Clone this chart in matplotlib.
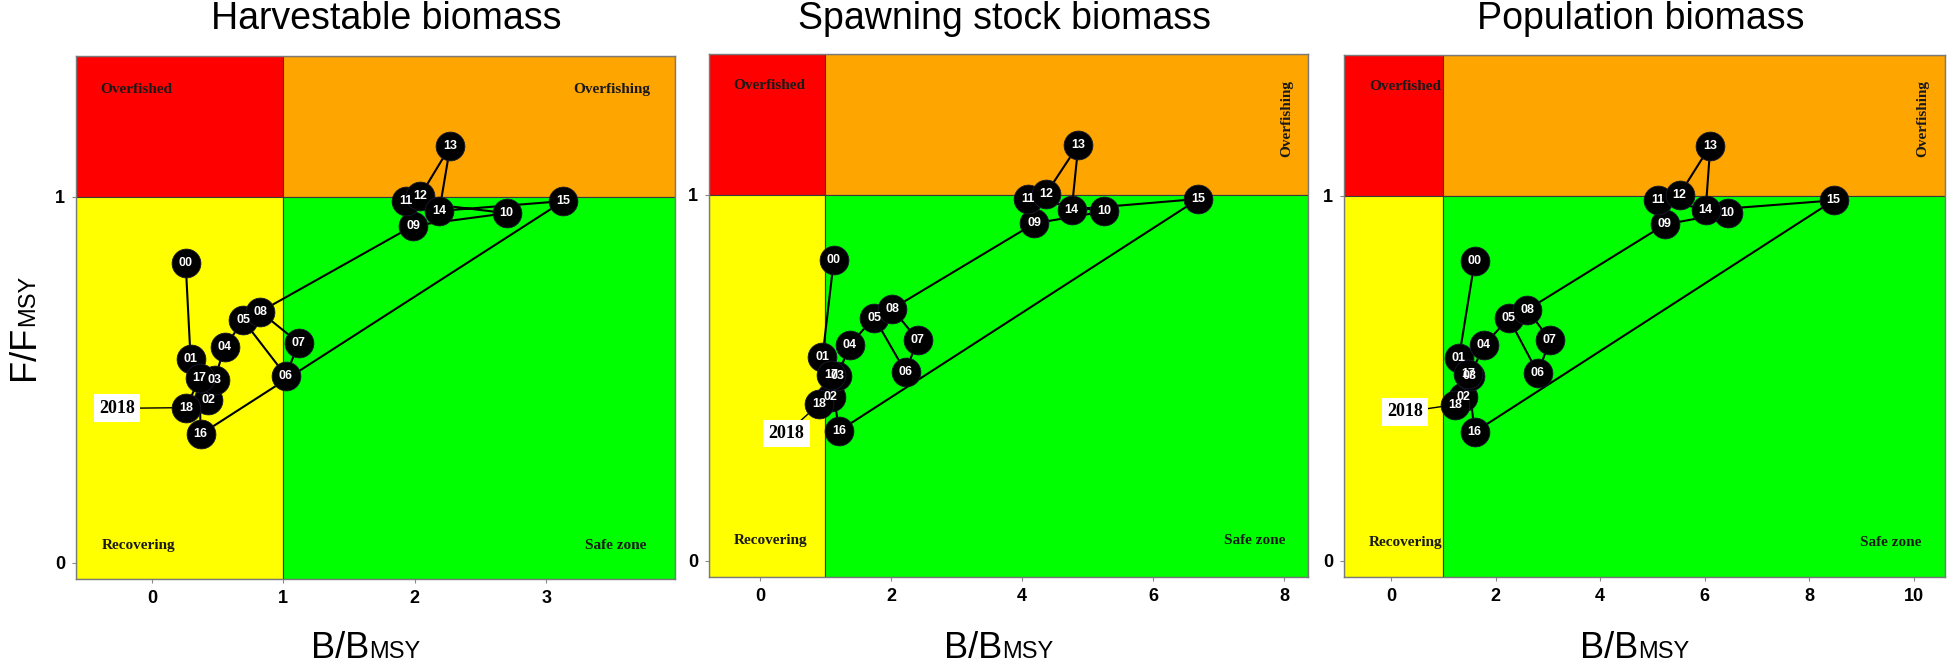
import matplotlib
matplotlib.use('Agg')
import matplotlib.pyplot as plt
from matplotlib.patches import Rectangle

# years 2000-2018, labelled by last two digits
years = ["00", "01", "02", "03", "04", "05", "06", "07", "08", "09",
         "10", "11", "12", "13", "14", "15", "16", "17", "18"]

# Harvestable biomass
harv_b = [0.257, 0.295, 0.431, 0.477, 0.553, 0.696, 1.02, 1.117, 0.824, 1.99,
          2.70, 1.935, 2.043, 2.27, 2.187, 3.13, 0.371, 0.363, 0.263]
harv_f = [0.82, 0.556, 0.445, 0.50, 0.589, 0.662, 0.511, 0.601, 0.686, 0.921,
          0.955, 0.988, 1.003, 1.138, 0.961, 0.988, 0.351, 0.506, 0.424]

# Spawning stock biomass
ssb_b = [1.127, 0.954, 1.081, 1.183, 1.371, 1.743, 2.221, 2.405, 2.018, 4.186,
         5.253, 4.094, 4.364, 4.857, 4.756, 6.689, 1.204, 1.09, 0.903]
ssb_f = [0.822, 0.557, 0.448, 0.504, 0.591, 0.665, 0.516, 0.604, 0.689, 0.922,
         0.955, 0.988, 1.003, 1.137, 0.960, 0.989, 0.355, 0.509, 0.429]

# Population biomass
pop_b = [1.60, 1.30, 1.38, 1.51, 1.78, 2.25, 2.81, 3.04, 2.61, 5.24,
         6.44, 5.10, 5.52, 6.11, 6.02, 8.47, 1.60, 1.47, 1.23]
pop_f = [0.82, 0.556, 0.448, 0.507, 0.59, 0.665, 0.514, 0.604, 0.688, 0.921,
         0.953, 0.987, 1.003, 1.137, 0.960, 0.987, 0.353, 0.512, 0.428]

titles = ["Harvestable biomass", "Spawning stock biomass", "Population biomass"]
xticks_list = [[0, 1, 2, 3], [0, 2, 4, 6, 8], [0, 2, 4, 6, 8, 10]]

W, H = 1950, 663
fig = plt.figure(figsize=(W / 100, H / 100), dpi=100)

narrow = ['Liberation Sans Narrow', 'Liberation Sans', 'DejaVu Sans']
serif = ['Liberation Serif', 'DejaVu Serif']
sans = ['Liberation Sans', 'DejaVu Sans']

# panel layout: (left px, right px, top px, bottom px, xlim, title x px, xlabel split px)
panels = [
    dict(px=(76, 675, 55.7, 579), xlim=(-0.577, 3.98), title_x=386, split=369,
         overfished=(-0.12, 1.294), overfishing=(3.50, 1.294, 0), recovering=(-0.10, 0.047),
         safe=(3.53, 0.047), lab2018=(-0.264, 0.422)),
    dict(px=(709, 1308, 54, 577), xlim=(-0.777, 8.36), title_x=1004, split=1002,
         overfished=(0.139, 1.30), overfishing=(8.04, 1.21, 90), recovering=(0.165, 0.055),
         safe=(7.54, 0.055), lab2018=(0.405, 0.348)),
    dict(px=(1344, 1945, 55, 577), xlim=(-0.9, 10.6), title_x=1641, split=1638,
         overfished=(0.27, 1.30), overfishing=(10.18, 1.21, 90), recovering=(0.28, 0.05),
         safe=(9.56, 0.05), lab2018=(0.27, 0.408)),
]
series = [(harv_b, harv_f), (ssb_b, ssb_f), (pop_b, pop_f)]
ylim = (-0.044, 1.385)

for i, (cfg, (bx, fy)) in enumerate(zip(panels, series)):
    l, r, t, b = cfg['px']
    ax = fig.add_axes([l / W, 1 - b / H, (r - l) / W, (b - t) / H])
    x0, x1 = cfg['xlim']
    y0, y1 = ylim
    ax.set_xlim(x0, x1)
    ax.set_ylim(y0, y1)

    # zones
    ec = '#3a3a3a'
    ax.add_patch(Rectangle((x0, 1), 1 - x0, y1 - 1, fc='#FF0000', ec=ec, lw=0.8, zorder=0))
    ax.add_patch(Rectangle((1, 1), x1 - 1, y1 - 1, fc='#FFA500', ec=ec, lw=0.8, zorder=0))
    ax.add_patch(Rectangle((x0, y0), 1 - x0, 1 - y0, fc='#FFFF00', ec=ec, lw=0.8, zorder=0))
    ax.add_patch(Rectangle((1, y0), x1 - 1, 1 - y0, fc='#00FF00', ec=ec, lw=0.8, zorder=0))

    # trajectory
    ax.plot(bx, fy, color='black', lw=1.5, zorder=2)

    # 2018 label with leader
    lx, ly = cfg['lab2018']
    ax.plot([lx, bx[-1]], [ly, fy[-1]], color='black', lw=1.0, zorder=1.5)
    ax.text(lx, ly, "2018", ha='center', va='center', fontsize=13, fontweight='bold',
            family=serif, zorder=2.5,
            bbox=dict(boxstyle='square,pad=0.3', fc='white', ec='none'))

    ax.scatter(bx, fy, s=430, color='black', edgecolors='#1a1a2e', linewidths=0.6, zorder=3)
    for yr, xv, yv in zip(years, bx, fy):
        ax.text(xv, yv, yr, ha='center', va='center', color='white', fontsize=9,
                fontweight='bold', family=narrow, zorder=4)

    # zone names
    tkw = dict(fontsize=11, fontweight='bold', family=serif, color='#1a1a1a',
               ha='center', va='center', zorder=1)
    ax.text(*cfg['overfished'], "Overfished", **tkw)
    ox, oy, rot = cfg['overfishing']
    ax.text(ox, oy, "Overfishing", rotation=rot, **tkw)
    ax.text(*cfg['recovering'], "Recovering", **tkw)
    ax.text(*cfg['safe'], "Safe zone", **tkw)

    ax.set_xticks(xticks_list[i])
    ax.set_yticks([0, 1])
    ax.tick_params(axis='both', length=3, width=0.8, color='#8a8a8a', pad=5,
                   labelsize=13)
    for lab in ax.get_xticklabels() + ax.get_yticklabels():
        lab.set_fontweight('bold')
        lab.set_family(narrow)
    for sp in ax.spines.values():
        sp.set_color('#7a7a7a')
        sp.set_linewidth(1.0)
        sp.set_zorder(5)

    # title
    fig.text(cfg['title_x'] / W, 1 - 19 / H, titles[i], ha='center', va='center',
             fontsize=27, family=sans)
    # x label B/B_MSY
    sx = cfg['split'] / W
    fig.text(sx, 1 - 658 / H, "B/B", ha='right', va='baseline', fontsize=26, family=sans)
    fig.text(sx, 1 - 658 / H, "MSY", ha='left', va='baseline', fontsize=17, family=sans)

# y label F/F_MSY
fig.text(34 / W, 1 - 326 / H, "F/F", rotation=90, rotation_mode='anchor',
         ha='right', va='baseline', fontsize=26, family=sans)
fig.text(34 / W, 1 - 326 / H, "MSY", rotation=90, rotation_mode='anchor',
         ha='left', va='baseline', fontsize=17, family=sans)

fig.savefig('out.png', dpi=100, facecolor='white')
